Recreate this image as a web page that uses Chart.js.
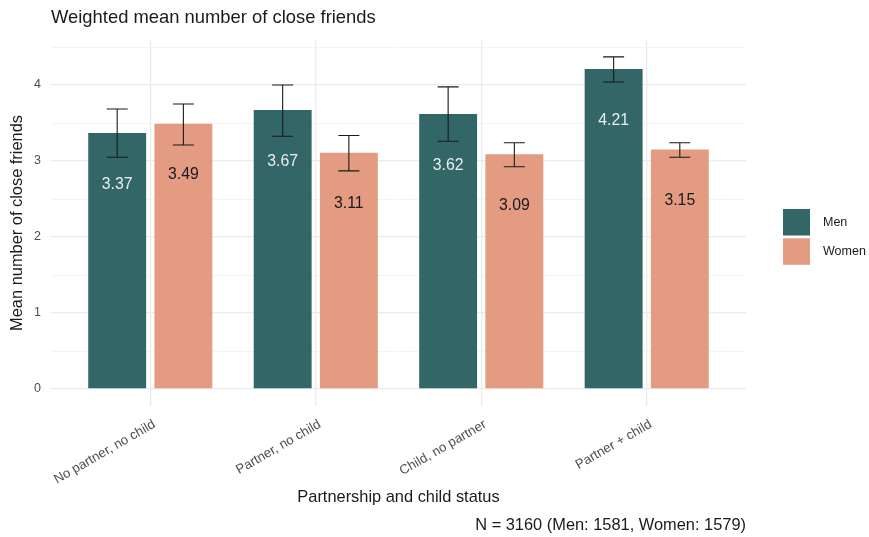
<!DOCTYPE html>
<html>
<head>
<meta charset="utf-8">
<title>Weighted mean number of close friends</title>
<script src="https://cdn.jsdelivr.net/npm/chart.js@4.4.0/dist/chart.umd.min.js"></script>
<style>
  html, body { margin: 0; padding: 0; background: #ffffff; }
  #wrap { width: 869px; height: 537px; }
</style>
</head>
<body>
<div id="wrap"><canvas id="chart" width="869" height="537"></canvas></div>
<script>
// ---- data ----
const categories = ['No partner, no child', 'Partner, no child', 'Child, no partner', 'Partner + child'];
const seriesNames = ['Men', 'Women'];
const menMeans = [3.37, 3.67, 3.62, 4.21];
const womenMeans = [3.49, 3.11, 3.09, 3.15];
const menCiLow = [3.05, 3.325, 3.26, 4.04];
const menCiHigh = [3.685, 4.00, 3.975, 4.37];
const womenCiLow = [3.21, 2.87, 2.925, 3.05];
const womenCiHigh = [3.75, 3.335, 3.24, 3.24];
const yTickValues = [0, 1, 2, 3, 4];
const sampleSizes = [1581, 1579];

// ---- styling ----
const FONT = "'Liberation Sans', Arial, Helvetica, sans-serif";
const MEN_COLOR = '#336666';
const WOMEN_COLOR = '#E39B82';
const GRID = '#EBEBEB';

Chart.defaults.font.family = FONT;

const means = [menMeans, womenMeans];
const ciLow = [menCiLow, womenCiLow];
const ciHigh = [menCiHigh, womenCiHigh];
const colors = [MEN_COLOR, WOMEN_COLOR];
const labelColors = ['#E8EEEE', '#1A1A1A'];

// continuous axis padded 5% beyond the data range (0 .. highest interval bound)
const yTop = Math.max(...menCiHigh, ...womenCiHigh);
const yMin = -0.05 * yTop;
const yMax = yTop * 1.05;
// discrete axis padded 0.6 of a category on each side
const xMin = 0.4;
const xMax = categories.length + 0.6;

const datasets = seriesNames.map((name, s) => ({
  label: name,
  data: means[s].map((v, i) => ({ x: i + 1, y: v })),
  backgroundColor: colors[s],
  borderWidth: 0,
  categoryPercentage: 0.8,
  barPercentage: 0.875
}));

// error bars drawn over the bars
const errorBars = {
  id: 'errorBars',
  afterDatasetsDraw(chart) {
    const ctx = chart.ctx;
    const yScale = chart.scales.y;
    ctx.save();
    ctx.strokeStyle = '#1A1A1A';
    ctx.lineWidth = 1.1;
    chart.data.datasets.forEach((ds, s) => {
      const meta = chart.getDatasetMeta(s);
      meta.data.forEach((bar, i) => {
        const yHi = yScale.getPixelForValue(ciHigh[s][i]);
        const yLo = yScale.getPixelForValue(ciLow[s][i]);
        const half = 10.5;
        ctx.beginPath();
        ctx.moveTo(bar.x, yHi); ctx.lineTo(bar.x, yLo);
        ctx.moveTo(bar.x - half, yHi); ctx.lineTo(bar.x + half, yHi);
        ctx.moveTo(bar.x - half, yLo); ctx.lineTo(bar.x + half, yLo);
        ctx.stroke();
      });
    });
    ctx.restore();
  }
};

// value labels inside each bar, below its top
const valueLabels = {
  id: 'valueLabels',
  afterDatasetsDraw(chart) {
    const ctx = chart.ctx;
    ctx.save();
    ctx.font = '15.8px ' + FONT;
    ctx.textAlign = 'center';
    ctx.textBaseline = 'alphabetic';
    chart.data.datasets.forEach((ds, s) => {
      const meta = chart.getDatasetMeta(s);
      ctx.fillStyle = labelColors[s];
      meta.data.forEach((bar, i) => {
        ctx.fillText(means[s][i].toFixed(2), bar.x, bar.y + 55.7);
      });
    });
    ctx.restore();
  }
};

// legend keys to the right of the panel
const sideLegend = {
  id: 'sideLegend',
  afterDraw(chart) {
    const ctx = chart.ctx;
    const left = chart.chartArea.right + 37;
    const top = 209;
    ctx.save();
    ctx.font = '12.5px ' + FONT;
    ctx.textAlign = 'left';
    ctx.textBaseline = 'middle';
    chart.data.datasets.forEach((ds, s) => {
      const y = top + s * 29.3;
      ctx.fillStyle = ds.backgroundColor;
      ctx.fillRect(left, y, 27, 26.5);
      ctx.fillStyle = '#1A1A1A';
      ctx.fillText(ds.label, left + 40, y + 13.5);
    });
    ctx.restore();
  }
};

new Chart(document.getElementById('chart'), {
  type: 'bar',
  data: { datasets },
  options: {
    responsive: false,
    animation: false,
    devicePixelRatio: 1,
    layout: { padding: { top: 4, left: 6, right: 123, bottom: 1.5 } },
    plugins: {
      legend: { display: false },
      tooltip: { enabled: false },
      title: {
        display: true,
        text: 'Weighted mean number of close friends',
        align: 'start',
        fullSize: false,
        color: '#1A1A1A',
        font: { size: 18.4, weight: 'normal' },
        padding: { top: 2.5, bottom: 11.7 }
      },
      subtitle: {
        display: true,
        position: 'bottom',
        align: 'end',
        fullSize: false,
        text: `N = ${sampleSizes[0] + sampleSizes[1]} (${seriesNames[0]}: ${sampleSizes[0]}, ${seriesNames[1]}: ${sampleSizes[1]})`,
        color: '#1A1A1A',
        font: { size: 16.4, weight: 'normal' },
        padding: { top: 0, bottom: 0 }
      }
    },
    scales: {
      x: {
        type: 'linear',
        min: xMin,
        max: xMax,
        offset: false,
        afterBuildTicks(scale) {
          scale.ticks = categories.map((c, i) => ({ value: i + 1 }));
        },
        afterFit(scale) { scale.height = 110.2; },
        ticks: {
          autoSkip: false,
          minRotation: 30,
          maxRotation: 30,
          padding: 11,
          labelOffset: 4,
          color: '#4D4D4D',
          font: { size: 13.2 },
          callback: (v) => categories[Math.round(v) - 1]
        },
        grid: { offset: false, color: GRID, lineWidth: 1.3, drawTicks: false },
        border: { display: false },
        title: {
          display: true,
          text: 'Partnership and child status',
          color: '#1A1A1A',
          font: { size: 16.4 },
          padding: { top: 4, bottom: 8.5 }
        }
      },
      y: {
        type: 'linear',
        min: yMin,
        max: yMax,
        afterBuildTicks(scale) {
          const t = [];
          for (let v = 0; v <= yMax; v += 0.5) t.push({ value: v });
          scale.ticks = t;
        },
        afterFit(scale) { scale.width = 45; },
        ticks: {
          padding: 10,
          color: '#4D4D4D',
          font: { size: 12.5 },
          callback: (v) => (yTickValues.includes(v) ? String(v) : '')
        },
        grid: {
          drawTicks: false,
          color: (c) => (c.tick && Number.isInteger(c.tick.value) ? GRID : '#F1F1F1'),
          lineWidth: (c) => (c.tick && Number.isInteger(c.tick.value) ? 1.3 : 0.8)
        },
        border: { display: false },
        title: {
          display: true,
          text: 'Mean number of close friends',
          color: '#1A1A1A',
          font: { size: 16.4 },
          padding: { top: 2, bottom: 2 }
        }
      }
    }
  },
  plugins: [errorBars, valueLabels, sideLegend]
});
</script>
</body>
</html>
